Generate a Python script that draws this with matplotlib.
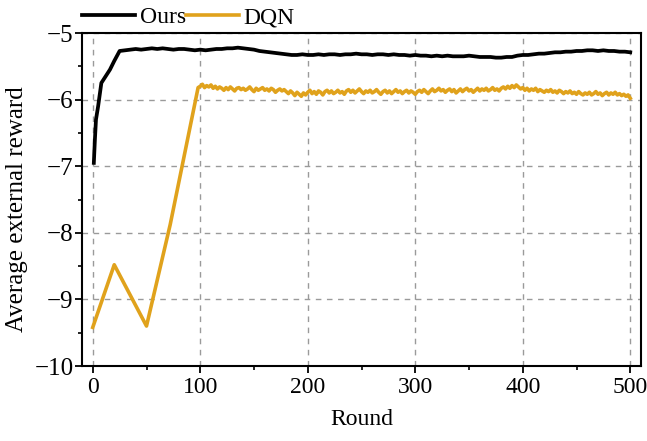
import numpy as np
import matplotlib
matplotlib.use("Agg")
import matplotlib.pyplot as plt
from matplotlib.ticker import MultipleLocator

plt.rcParams['font.family'] = ['Liberation Serif', 'DejaVu Serif']
plt.rcParams['axes.unicode_minus'] = True

ours_x_early = [1, 2, 3, 5, 8, 12, 16, 20, 25]
ours_y_early = [-6.95, -6.6, -6.3, -6.1, -5.75, -5.65, -5.55, -5.42, -5.27]
ours_y_late = [
    -5.26, -5.25, -5.24, -5.25, -5.24, -5.23, -5.24, -5.23, -5.24, -5.25,
    -5.24, -5.24, -5.25, -5.26, -5.25, -5.26, -5.25, -5.24, -5.24, -5.23,
    -5.23, -5.22, -5.23, -5.24, -5.25, -5.27, -5.28, -5.29, -5.30, -5.31,
    -5.32, -5.33, -5.33, -5.32, -5.33, -5.33, -5.32, -5.33, -5.32, -5.32,
    -5.33, -5.32, -5.32, -5.31, -5.32, -5.32, -5.33, -5.32, -5.32, -5.33,
    -5.32, -5.33, -5.33, -5.34, -5.33, -5.34, -5.34, -5.35, -5.34, -5.35,
    -5.34, -5.35, -5.35, -5.35, -5.34, -5.35, -5.36, -5.36, -5.36, -5.37,
    -5.37, -5.36, -5.36, -5.34, -5.33, -5.33, -5.32, -5.31, -5.31, -5.30,
    -5.29, -5.29, -5.28, -5.28, -5.27, -5.27, -5.26, -5.26, -5.27, -5.26,
    -5.27, -5.27, -5.28, -5.28, -5.29]
ours_x_late = list(range(30, 501, 5))

dqn_x_early = [0, 20, 50, 72, 98]
dqn_y_early = [-9.42, -8.48, -9.40, -7.88, -5.82]
dqn_y_late = [
    -5.80, -5.77, -5.82, -5.79, -5.81, -5.78, -5.83, -5.80, -5.84, -5.81,
    -5.83, -5.86, -5.82, -5.85, -5.81, -5.84, -5.87, -5.83, -5.82, -5.85,
    -5.83, -5.86, -5.84, -5.81, -5.85, -5.88, -5.83, -5.86, -5.84, -5.82,
    -5.86, -5.84, -5.87, -5.83, -5.85, -5.89, -5.86, -5.84, -5.87, -5.85,
    -5.88, -5.91, -5.87, -5.90, -5.94, -5.89, -5.92, -5.95, -5.90, -5.93,
    -5.89, -5.86, -5.91, -5.88, -5.92, -5.87, -5.89, -5.93, -5.88, -5.86,
    -5.90, -5.87, -5.91, -5.89, -5.86, -5.90, -5.88, -5.92, -5.87, -5.85,
    -5.89, -5.86, -5.90, -5.87, -5.84, -5.88, -5.91, -5.87, -5.89, -5.86,
    -5.90, -5.88, -5.85, -5.89, -5.92, -5.88, -5.86, -5.90, -5.87, -5.91,
    -5.88, -5.85, -5.89, -5.87, -5.91, -5.88, -5.86, -5.90, -5.87, -5.89,
    -5.92, -5.88, -5.86, -5.89, -5.85, -5.88, -5.91, -5.87, -5.84, -5.88,
    -5.86, -5.83, -5.87, -5.85, -5.89, -5.86, -5.84, -5.88, -5.85, -5.90,
    -5.87, -5.84, -5.88, -5.85, -5.83, -5.87, -5.85, -5.89, -5.86, -5.83,
    -5.87, -5.84, -5.86, -5.83, -5.87, -5.85, -5.82, -5.86, -5.84, -5.87,
    -5.83, -5.81, -5.84, -5.80, -5.83, -5.79, -5.82, -5.78, -5.81, -5.84,
    -5.82, -5.86, -5.83, -5.87, -5.84, -5.86, -5.83, -5.88, -5.85, -5.87,
    -5.89, -5.86, -5.88, -5.85, -5.89, -5.87, -5.90, -5.86, -5.88, -5.91,
    -5.88, -5.90, -5.87, -5.91, -5.89, -5.92, -5.88, -5.91, -5.93, -5.90,
    -5.92, -5.89, -5.93, -5.91, -5.88, -5.92, -5.90, -5.94, -5.91, -5.89,
    -5.93, -5.90, -5.92, -5.89, -5.93, -5.91, -5.94, -5.92, -5.95, -5.93,
    -5.98]
dqn_x_late = list(range(100, 501, 2))

ours_x = ours_x_early + ours_x_late
ours_y = ours_y_early + ours_y_late
dqn_x = dqn_x_early + dqn_x_late
dqn_y = dqn_y_early + dqn_y_late

fig = plt.figure(figsize=(6.47, 4.41), dpi=100)
ax = fig.add_axes([82/647, 1 - 366/441, (641-82)/647, (366-33)/441])

ax.plot(ours_x, ours_y, color='black', lw=2.7, label='Ours', zorder=3)
ax.plot(dqn_x, dqn_y, color='#E0A21C', lw=2.6, label='DQN', zorder=2)

ax.set_xlim(-10, 510)
ax.set_ylim(-10, -5)
ax.xaxis.set_major_locator(MultipleLocator(100))
ax.xaxis.set_minor_locator(MultipleLocator(50))
ax.yaxis.set_major_locator(MultipleLocator(1))
ax.yaxis.set_minor_locator(MultipleLocator(0.5))
ax.grid(True, which='major', color='#9a9a9a', linestyle=(0, (4, 4)), lw=1.0)
ax.tick_params(which='major', length=5, width=1.3, labelsize=17, direction='out', pad=3)
ax.tick_params(axis='y', which='major', labelsize=18, pad=1)
ax.tick_params(which='minor', length=3, width=1.2, direction='out')
for s in ax.spines.values():
    s.set_linewidth(1.5)

ax.set_xlabel('Round', fontsize=17, labelpad=8)
ax.set_ylabel('Average external reward', fontsize=18)
ax.yaxis.set_label_coords(-0.097, 0.47)

ax.legend(loc='lower left', bbox_to_anchor=(0.0, 1.015), ncol=2, frameon=False,
          fontsize=17, handlelength=2.25, handletextpad=0.2, columnspacing=0.0,
          borderaxespad=0, borderpad=0.0)

fig.savefig('out.png', dpi=100)
